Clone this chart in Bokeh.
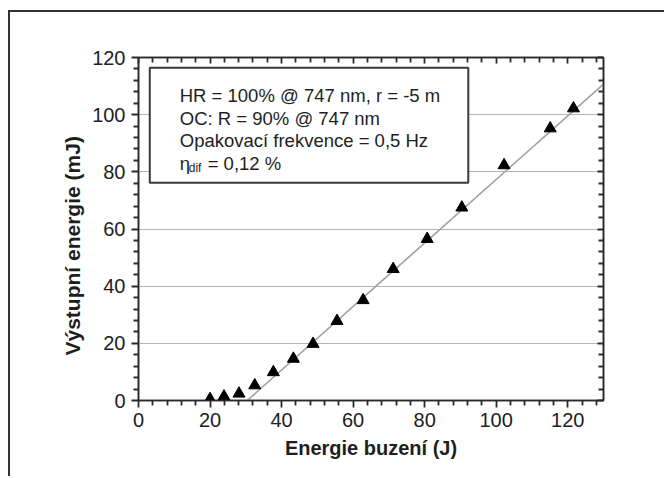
from bokeh.embed import file_html
from bokeh.models import (BoxAnnotation, CustomJSTickFormatter, FixedTicker,
                          Label, LinearAxis, Range1d, Title)
from bokeh.plotting import figure
from bokeh.resources import INLINE

# Pump energy (J) vs. output energy (mJ)
pump_energy = [20.0, 23.9, 28.1, 32.5, 37.7, 43.3, 48.8, 55.5, 62.8,
               71.2, 80.7, 90.4, 102.2, 115.1, 121.6]
output_energy = [0.5, 1.4, 2.4, 5.3, 9.9, 14.6, 19.8, 27.8, 35.1,
                 46.0, 56.5, 67.5, 82.3, 95.2, 102.2]

# Linear fit above threshold: E_out = slope * (E_pump - threshold)
fit_threshold = 30.4
fit_slope = 1.111

major_ticks = [0, 20, 40, 60, 80, 100, 120]
minor_ticks = [t for t in range(0, 131, 4) if t % 20]

info_lines = ["HR = 100% @ 747 nm, r = -5 m",
              "OC: R = 90% @ 747 nm",
              "Opakovací frekvence = 0,5 Hz"]
eta_symbol, eta_sub, eta_value = "η", "dif", "= 0,12 %"

x_title = "Energie buzení (J)"
y_title = "Výstupní energie (mJ)"

FONT = "Liberation Sans"
INK = "#1e1e1e"
AXIS = "#2a2a2a"

# canvas sits 10 px below / 8 px right of the page edge, behind a 2 px rule
OX, OY = 10, 12

p = figure(width=666 - OX, height=478 - OY, output_backend="svg",
           toolbar_location=None,
           x_range=Range1d(0, 130), y_range=Range1d(0, 120),
           min_border_left=round(138 - OX), min_border_right=63,
           min_border_top=round(57 - OY), min_border_bottom=78)
p.margin = (10, 0, 0, 8)
p.styles = {"border-left": "2px solid #333333",
            "border-top": "2px solid #333333"}
p.background_fill_color = "white"
p.border_fill_color = "white"
p.outline_line_color = AXIS
p.outline_line_width = 1.5

ticker = FixedTicker(ticks=major_ticks, minor_ticks=minor_ticks)

for ax in (p.xaxis[0], p.yaxis[0]):
    ax.ticker = ticker
    ax.axis_line_color = AXIS
    ax.axis_line_width = 1.6
    ax.major_tick_line_color = AXIS
    ax.major_tick_line_width = 1.8
    ax.minor_tick_line_color = AXIS
    ax.minor_tick_line_width = 1.8
    ax.major_tick_in = 0
    ax.major_tick_out = 7
    ax.minor_tick_in = 0
    ax.minor_tick_out = 5
    ax.major_label_text_font = FONT
    ax.major_label_text_font_size = "20px"
    ax.major_label_text_color = INK

p.xaxis.major_label_standoff = 5
p.yaxis.major_label_standoff = 6

p.xaxis.axis_label = x_title
p.xaxis.axis_label_text_font = FONT
p.xaxis.axis_label_text_font_size = "20px"
p.xaxis.axis_label_text_font_style = "bold"
p.xaxis.axis_label_text_color = INK
p.xaxis.axis_label_standoff = 7

# Y title as a side title so it can sit slightly below centre
p.add_layout(Title(text=y_title, align="left", offset=45, standoff=12,
                   text_font=FONT, text_font_size="21px",
                   text_font_style="bold", text_color=INK), "left")

# Mirror axes on top and right with inward ticks, no labels
blank = CustomJSTickFormatter(code="return ''")
for side in ("above", "right"):
    ax = LinearAxis(ticker=ticker, formatter=blank)
    ax.axis_line_color = AXIS
    ax.axis_line_width = 1.6
    ax.major_tick_line_color = AXIS
    ax.major_tick_line_width = 1.8
    ax.minor_tick_line_color = AXIS
    ax.minor_tick_line_width = 1.8
    ax.major_tick_in = 6
    ax.major_tick_out = 0
    ax.minor_tick_in = 5
    ax.minor_tick_out = 0
    ax.major_label_text_font_size = "1px"
    p.add_layout(ax, side)

p.xgrid.visible = False
p.ygrid.ticker = FixedTicker(ticks=major_ticks)
p.ygrid.grid_line_color = "#b4b4b4"
p.ygrid.grid_line_width = 1

# Fit line
fit_x = [fit_threshold, 130]
fit_y = [fit_slope * (x - fit_threshold) for x in fit_x]
p.line(fit_x, fit_y, line_color="#a0a0a0", line_width=1.6)

# Measured points
p.scatter(pump_energy, output_energy, marker="triangle", size=12,
          fill_color="black", line_color="black")

# Parameter box
p.add_layout(BoxAnnotation(left=3.15, right=92.2, bottom=76.2, top=116.4,
                           fill_color="white", fill_alpha=1.0,
                           line_color="#3a3a3a", line_alpha=1.0,
                           line_width=2))
for txt, yb in zip(info_lines, [106.6, 98.8, 90.9]):
    p.add_layout(Label(x=11.53, y=yb, text=txt, text_font=FONT,
                       text_font_size="18.5px", text_color=INK,
                       text_baseline="alphabetic"))
p.add_layout(Label(x=11.53, y=83.0, text=eta_symbol, text_font=FONT,
                   text_font_size="18.5px", text_color=INK,
                   text_baseline="alphabetic"))
p.add_layout(Label(x=14.04, y=81.25, text=eta_sub, text_font=FONT,
                   text_font_size="12px", text_color=INK,
                   text_baseline="alphabetic"))
p.add_layout(Label(x=19.34, y=83.0, text=eta_value, text_font=FONT,
                   text_font_size="18.5px", text_color=INK,
                   text_baseline="alphabetic"))

open("out.html", "w").write(file_html(p, INLINE))
